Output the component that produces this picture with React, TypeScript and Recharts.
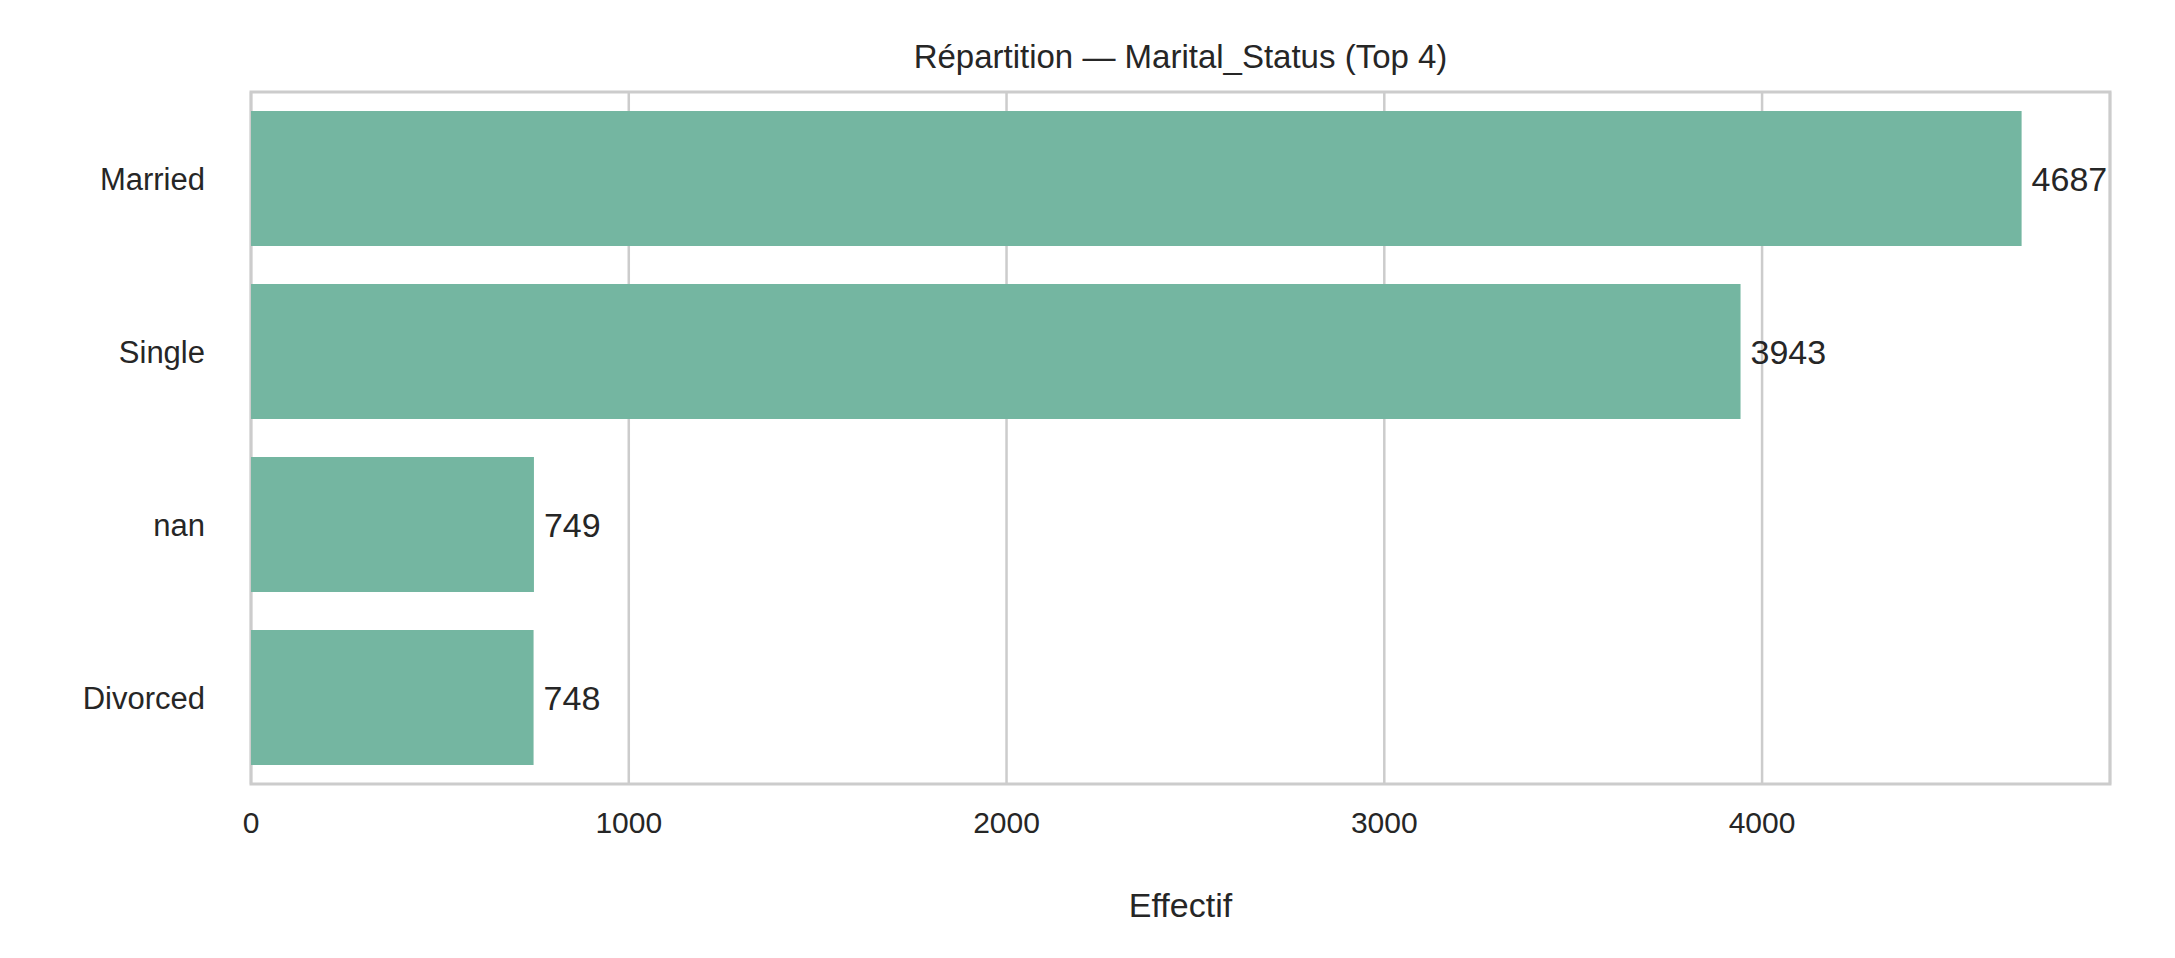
import React from 'react';
import { BarChart, Bar, XAxis, YAxis, CartesianGrid, LabelList, ReferenceArea } from 'recharts';

const categories = ['Married', 'Single', 'nan', 'Divorced'];
const counts = [4687, 3943, 749, 748];
const xTicks = [0, 1000, 2000, 3000, 4000];

const data = categories.map((c, i) => ({ name: c, value: counts[i] }));
const FONT = '"Liberation Sans", Arial, sans-serif';
const TEXT = '#262626';
const X_MAX = 4921;

export default function App() {
  return (
    <div style={{ position: 'relative', width: 2159, height: 942, fontFamily: FONT, color: TEXT }}>
      <div style={{ position: 'absolute', left: 243, width: 1859, top: 30, textAlign: 'center', fontSize: 33 }}>
        Répartition — Marital_Status (Top 4)
      </div>
      <BarChart
        width={2159}
        height={942}
        data={data}
        layout="vertical"
        barCategoryGap="11%"
        margin={{ top: 84, right: 57, bottom: 46, left: 0 }}
      >
        <CartesianGrid horizontal={false} stroke="#cccccc" strokeWidth={2.5} />
        <ReferenceArea x1={0} x2={X_MAX} fill="none" stroke="#cccccc" strokeWidth={3} ifOverflow="extendDomain" />
        <XAxis
          type="number"
          domain={[0, X_MAX]}
          ticks={xTicks}
          height={120}
          axisLine={false}
          tickLine={false}
          tickMargin={22}
          tick={{ fontSize: 30, fill: TEXT, fontFamily: FONT }}
        />
        <YAxis
          type="category"
          dataKey="name"
          width={243}
          axisLine={false}
          tickLine={false}
          tickMargin={40}
          tick={{ fontSize: 31, fill: TEXT, fontFamily: FONT }}
        />
        <Bar dataKey="value" fill="#74b6a1" isAnimationActive={false}>
          <LabelList dataKey="value" position="right" offset={10} style={{ fontSize: 34, fill: TEXT, fontFamily: FONT }} />
        </Bar>
      </BarChart>
      <div style={{ position: 'absolute', left: 243, width: 1859, top: 878, textAlign: 'center', fontSize: 34 }}>
        Effectif
      </div>
    </div>
  );
}
